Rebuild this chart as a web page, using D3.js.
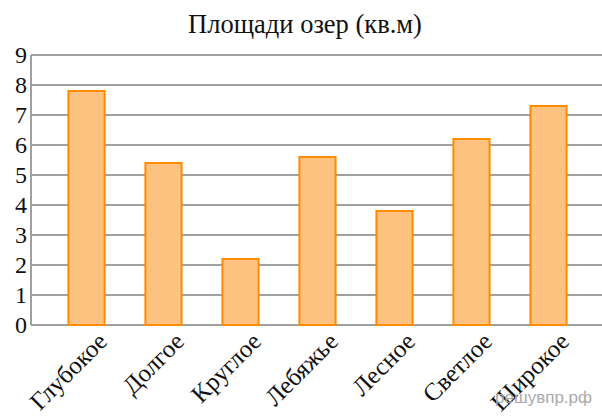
<!DOCTYPE html>
<html>
<head>
<meta charset="utf-8">
<script src="https://cdn.jsdelivr.net/npm/d3@7"></script>
<style>
  body { margin: 0; background: #fff; }
</style>
</head>
<body>
<script>
// data
var lakes = ["Глубокое", "Долгое", "Круглое", "Лебяжье", "Лесное", "Светлое", "Широкое"];
var areas = [7.8, 5.4, 2.2, 5.6, 3.8, 6.2, 7.3];
var yTicks = [0, 1, 2, 3, 4, 5, 6, 7, 8, 9];

var width = 602, height = 419;
var serif = "'Liberation Serif', 'Times New Roman', Times, 'DejaVu Serif', serif";

var svg = d3.select("body").append("svg")
    .attr("width", width)
    .attr("height", height);

var x = d3.scaleBand()
    .domain(lakes)
    .range([48, 587])
    .paddingInner(0.53)
    .paddingOuter(0.265);

var y = d3.scaleLinear()
    .domain([0, 9])
    .range([325, 55]);

// title
var title = svg.append("text")
    .attr("x", 305).attr("y", 33)
    .attr("text-anchor", "middle")
    .attr("font-family", serif)
    .attr("font-size", 25)
    .attr("fill", "#111")
    .text("Площади озер (кв.м)");
// fit title to the width seen in the picture
var tw = title.node().getComputedTextLength();
title.attr("font-size", 25 * 234 / tw);

// grid lines
svg.append("g").selectAll("line")
    .data(yTicks)
    .enter()
    .append("line")
    .attr("x1", 31).attr("x2", width)
    .attr("y1", function(d) { return y(d); })
    .attr("y2", function(d) { return y(d); })
    .attr("stroke", "#a0a0a0")
    .attr("stroke-width", 2);

// left axis line
svg.append("line")
    .attr("x1", 31).attr("x2", 31)
    .attr("y1", y(9)).attr("y2", y(0))
    .attr("stroke", "#a0a0a0")
    .attr("stroke-width", 2);

// y tick labels
svg.append("g").selectAll("text")
    .data(yTicks)
    .enter()
    .append("text")
    .attr("x", 27)
    .attr("y", function(d) { return y(d) + 8; })
    .attr("text-anchor", "end")
    .attr("font-family", serif)
    .attr("font-size", 24)
    .attr("fill", "#111")
    .text(function(d) { return d; });

// bars
svg.append("g").selectAll("rect")
    .data(areas)
    .enter()
    .append("rect")
    .attr("x", function(d, i) { return x(lakes[i]); })
    .attr("y", function(d) { return y(d); })
    .attr("width", x.bandwidth())
    .attr("height", function(d) { return y(0) - y(d); })
    .attr("fill", "#fdc280")
    .attr("stroke", "#ff8c00")
    .attr("stroke-width", 2);

// x labels
var labels = svg.append("g").selectAll("text")
    .data(lakes)
    .enter()
    .append("text")
    .attr("text-anchor", "end")
    .attr("transform", function(d) {
        var cx = x(d) + x.bandwidth() / 2 + 22;
        return "translate(" + cx + ",343) rotate(-45)";
    })
    .attr("font-family", serif)
    .attr("font-size", 24)
    .attr("fill", "#111")
    .text(function(d) { return d; });
var lw = labels.node().getComputedTextLength();
labels.attr("font-size", 24 * 97 / lw);

// watermark
svg.append("text")
    .attr("x", 592).attr("y", 403)
    .attr("text-anchor", "end")
    .attr("font-family", "'Liberation Sans', Arial, sans-serif")
    .attr("font-size", 17)
    .attr("fill", "#aaaaaa")
    .text("решувпр.рф");
</script>
</body>
</html>
